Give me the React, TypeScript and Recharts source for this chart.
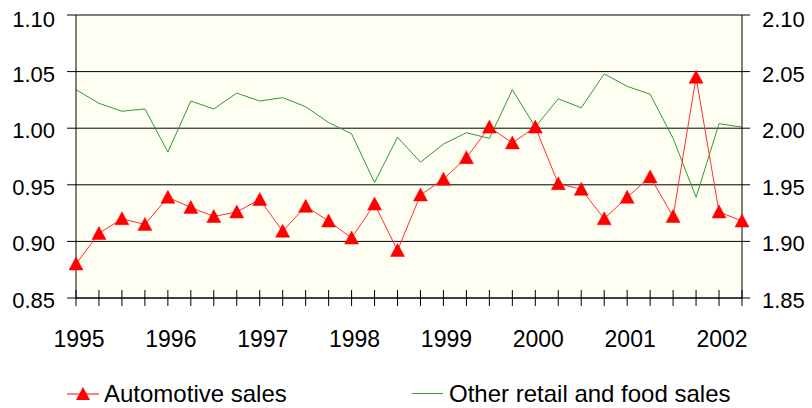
import React from 'react';
import { LineChart, Line, XAxis, YAxis, CartesianGrid, Legend } from 'recharts';

const quarters = [
  '1995Q1', '1995Q2', '1995Q3', '1995Q4',
  '1996Q1', '1996Q2', '1996Q3', '1996Q4',
  '1997Q1', '1997Q2', '1997Q3', '1997Q4',
  '1998Q1', '1998Q2', '1998Q3', '1998Q4',
  '1999Q1', '1999Q2', '1999Q3', '1999Q4',
  '2000Q1', '2000Q2', '2000Q3', '2000Q4',
  '2001Q1', '2001Q2', '2001Q3', '2001Q4',
  '2002Q1', '2002Q2',
];

const automotiveSales = [
  0.880, 0.907, 0.920, 0.915, 0.939, 0.930, 0.922, 0.926, 0.937, 0.909,
  0.931, 0.918, 0.903, 0.933, 0.892, 0.941, 0.955, 0.974, 1.001, 0.987,
  1.001, 0.951, 0.946, 0.920, 0.939, 0.957, 0.922, 1.045, 0.926, 0.918,
];

const otherRetailSales = [
  2.034, 2.022, 2.015, 2.017, 1.979, 2.024, 2.017, 2.031, 2.024, 2.027,
  2.019, 2.005, 1.995, 1.952, 1.992, 1.970, 1.986, 1.996, 1.991, 2.034,
  2.001, 2.026, 2.018, 2.048, 2.037, 2.030, 1.991, 1.939, 2.004, 2.001,
];

const leftTicks = [0.85, 0.9, 0.95, 1.0, 1.05, 1.1];
const rightTicks = [1.85, 1.9, 1.95, 2.0, 2.05, 2.1];

const data = quarters.map((q, i) => ({
  quarter: q,
  auto: automotiveSales[i],
  other: otherRetailSales[i],
}));

const FONT = '"Liberation Sans", Arial, Helvetica, sans-serif';
const RED = '#FF0000';
const GREEN = '#2F9A2F';

const XTick = (props: any) => {
  const { x, y, payload } = props;
  const label: string = String(payload.value);
  const isYear = label.endsWith('Q1');
  return (
    <g>
      <line x1={x} x2={x} y1={y - 16} y2={y} stroke="#000" strokeWidth={1} />
      {isYear && (
        <text x={x + 3} y={y + 41} textAnchor="middle" fontSize={23} fill="#000" fontFamily={FONT}>
          {label.slice(0, 4)}
        </text>
      )}
    </g>
  );
};

const LeftTick = (props: any) => {
  const { x, y, payload } = props;
  const v = Number(payload.value);
  const extra = Math.abs(v - 1.1) < 1e-6 ? 2 : 0;
  return (
    <g>
      <line x1={x} x2={x + 9} y1={y} y2={y} stroke="#000" strokeWidth={1} />
      <text x={x - 12} y={y + 10 + extra} textAnchor="end" fontSize={22} fill="#000" fontFamily={FONT}>
        {v.toFixed(2)}
      </text>
    </g>
  );
};

const RightTick = (props: any) => {
  const { x, y, payload } = props;
  const v = Number(payload.value);
  const extra = Math.abs(v - 2.1) < 1e-6 ? 2 : 0;
  return (
    <g>
      <line x1={x - 8} x2={x} y1={y} y2={y} stroke="#000" strokeWidth={1} />
      <text x={x + 12} y={y + 10 + extra} textAnchor="start" fontSize={22} fill="#000" fontFamily={FONT}>
        {v.toFixed(2)}
      </text>
    </g>
  );
};

const TriangleDot = (props: any) => {
  const { cx, cy, index } = props;
  if (cx == null || cy == null) return <g key={`t-${index}`} />;
  const pts = `${cx},${cy - 7} ${cx + 7},${cy + 6} ${cx - 7},${cy + 6}`;
  return <polygon key={`t-${index}`} points={pts} fill={RED} stroke={RED} strokeWidth={0.5} />;
};

const LegendContent = () => (
  <div style={{ position: 'relative', width: 812, height: 30, fontFamily: FONT }}>
    <svg width={812} height={30} style={{ position: 'absolute', left: 0, top: 0 }}>
      <line x1={67} x2={99} y1={16} y2={16} stroke={RED} strokeWidth={1} />
      <polygon points={`83,9 90,22 76,22`} fill={RED} />
      <line x1={412} x2={443} y1={15.5} y2={15.5} stroke={GREEN} strokeWidth={1} />
      <text x={104} y={24} fontSize={24} fill="#000" fontFamily={FONT}>Automotive sales</text>
      <text x={449} y={24} fontSize={24} fill="#000" fontFamily={FONT}>Other retail and food sales</text>
    </svg>
  </div>
);

export default function App() {
  return (
    <div style={{ position: 'absolute', left: 0, top: 0, width: 812, height: 408, background: '#FFFFFF' }}>
      <LineChart
        width={812}
        height={408}
        data={data}
        margin={{ top: 15, right: 0, bottom: 0, left: 0 }}
      >
        <CartesianGrid
          yAxisId="left"
          vertical={false}
          stroke="#000"
          strokeWidth={1}
          fill="#FEFEF3"
          fillOpacity={1}
        />
        <XAxis
          dataKey="quarter"
          interval={0}
          height={80}
          tickSize={8}
          tickMargin={0}
          tickLine={false}
          axisLine={{ stroke: '#000', strokeWidth: 1 }}
          tick={<XTick />}
        />
        <YAxis
          yAxisId="left"
          orientation="left"
          width={76}
          domain={[0.85, 1.1]}
          ticks={leftTicks}
          allowDataOverflow
          tickSize={9}
          tickMargin={0}
          tickLine={false}
          axisLine={{ stroke: '#000', strokeWidth: 1 }}
          tick={<LeftTick />}
        />
        <YAxis
          yAxisId="right"
          orientation="right"
          width={70}
          domain={[1.85, 2.1]}
          ticks={rightTicks}
          allowDataOverflow
          tickSize={8}
          tickMargin={0}
          tickLine={false}
          axisLine={{ stroke: '#000', strokeWidth: 1 }}
          tick={<RightTick />}
        />
        <Legend
          verticalAlign="bottom"
          height={30}
          wrapperStyle={{ left: 0, width: 812 }}
          content={<LegendContent />}
        />
        <Line
          yAxisId="right"
          dataKey="other"
          type="linear"
          stroke={GREEN}
          strokeWidth={1}
          dot={false}
          activeDot={false}
          isAnimationActive={false}
        />
        <Line
          yAxisId="left"
          dataKey="auto"
          type="linear"
          stroke="#FF3030"
          strokeWidth={1}
          dot={(p: any) => <TriangleDot {...p} key={`d-${p.index}`} />}
          activeDot={false}
          isAnimationActive={false}
        />
      </LineChart>
    </div>
  );
}
